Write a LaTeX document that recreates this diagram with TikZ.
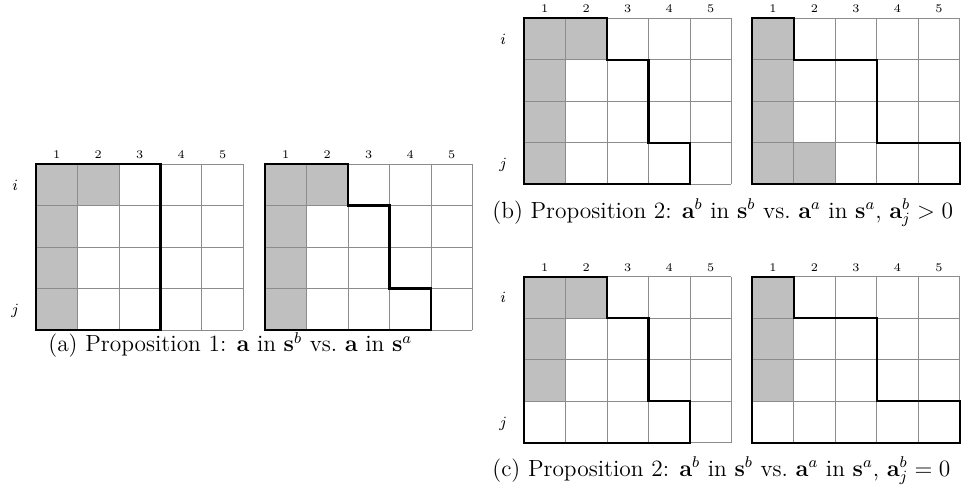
\documentclass[tikz,border=0pt]{standalone}
\tikzset{
  cellfill/.style={fill=black!25},
  gridline/.style={draw=black!45, line width=0.5pt},
  outline/.style={draw=black, line width=1.1pt, line join=miter},
  collab/.style={font=\fontsize{6}{7}\selectfont, anchor=base, inner sep=0pt, yshift=2.9pt},
  rowlab/.style={font=\fontsize{8}{9}\selectfont, anchor=base, inner sep=0pt, yshift=-2.8pt},
  captext/.style={font=\fontsize{12}{14}\selectfont, anchor=base west, inner sep=0pt}
}
\newcommand\mypanel[5]{%
\begin{scope}[shift={(#2,#3)},x=21.28pt,y=-21.28pt]
\fill[cellfill] #4;
\foreach \k in {0,...,5} \draw[gridline] (\k,0) -- (\k,4);
\foreach \k in {0,...,4} \draw[gridline] (0,\k) -- (5,\k);
\draw[outline] #5;
\foreach \k in {1,...,5} \node[collab] (#1c\k) at (\k-0.5,0) {\k};
\end{scope}}
\newcommand\myrows[3]{%
\begin{scope}[shift={(#2,#3)},x=21.28pt,y=-21.28pt]
\node[rowlab] (#1i) at (-0.5,0.5) {$i$};
\node[rowlab] (#1j) at (-0.5,3.5) {$j$};
\end{scope}}
\begin{document}
\begin{tikzpicture}
\useasboundingbox (0,0) rectangle (498.46pt,-252.82pt);
% (a)
\mypanel{aL}{18.46pt}{-84.10pt}{(0,0) rectangle (2,1) (0,1) rectangle (1,4)}{(0,0) rectangle (3,4)}
\myrows{aL}{18.46pt}{-84.10pt}
\mypanel{aR}{135.90pt}{-84.10pt}{(0,0) rectangle (2,1) (0,1) rectangle (1,4)}{(0,0) -- (2,0) -- (2,1) -- (3,1) -- (3,3) -- (4,3) -- (4,4) -- (0,4) -- cycle}
\node[captext] (capa) at (24.6pt,-180.5pt) {(a) Proposition 1: $\mathbf{a}$ in $\mathbf{s}^b$ vs.\ $\mathbf{a}$ in $\mathbf{s}^a$};
% (b)
\mypanel{bL}{268.72pt}{-9.38pt}{(0,0) rectangle (2,1) (0,1) rectangle (1,4)}{(0,0) -- (2,0) -- (2,1) -- (3,1) -- (3,3) -- (4,3) -- (4,4) -- (0,4) -- cycle}
\myrows{bL}{268.72pt}{-9.38pt}
\mypanel{bR}{385.79pt}{-9.38pt}{(0,0) rectangle (1,4) (1,3) rectangle (2,4)}{(0,0) -- (1,0) -- (1,1) -- (3,1) -- (3,3) -- (5,3) -- (5,4) -- (0,4) -- cycle}
\node[captext] (capb) at (252.3pt,-111.8pt) {(b) Proposition 2: $\mathbf{a}^b$ in $\mathbf{s}^b$ vs.\ $\mathbf{a}^a$ in $\mathbf{s}^a$, $\mathbf{a}^b_j > 0$};
% (c)
\mypanel{cL}{268.72pt}{-141.90pt}{(0,0) rectangle (2,1) (0,1) rectangle (1,3)}{(0,0) -- (2,0) -- (2,1) -- (3,1) -- (3,3) -- (4,3) -- (4,4) -- (0,4) -- cycle}
\myrows{cL}{268.72pt}{-141.90pt}
\mypanel{cR}{385.79pt}{-141.90pt}{(0,0) rectangle (1,3)}{(0,0) -- (1,0) -- (1,1) -- (3,1) -- (3,3) -- (5,3) -- (5,4) -- (0,4) -- cycle}
\node[captext] (capc) at (252.3pt,-244.1pt) {(c) Proposition 2: $\mathbf{a}^b$ in $\mathbf{s}^b$ vs.\ $\mathbf{a}^a$ in $\mathbf{s}^a$, $\mathbf{a}^b_j = 0$};
\end{tikzpicture}
\end{document}
